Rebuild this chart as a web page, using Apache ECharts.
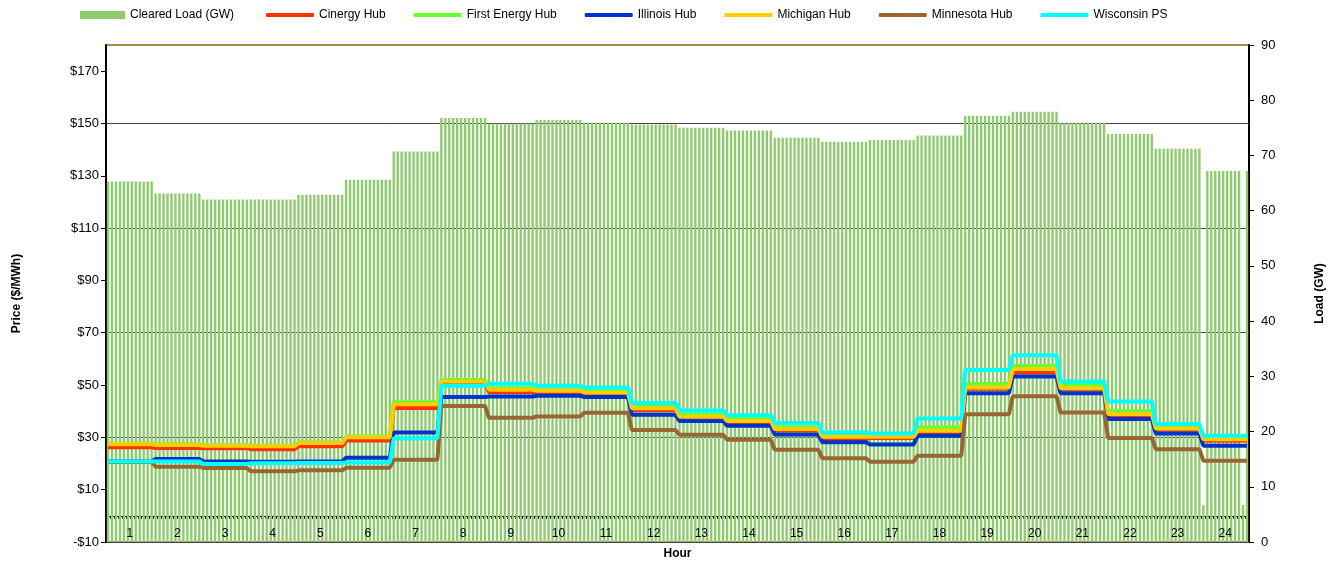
<!DOCTYPE html>
<html lang="en">
<head>
<meta charset="UTF-8">
<title>Real-Time Prices and Cleared Load</title>
<script src="https://cdn.jsdelivr.net/npm/echarts@6/dist/echarts.min.js"></script>
<style>
    html, body { margin: 0; padding: 0; background: #fff; }
    #chart { width: 1339px; height: 565px; }
</style>
</head>
<body>
<div id="chart"></div>
<script>
// hourly values (hour 1 .. 24)
var hours = ['1','2','3','4','5','6','7','8','9','10','11','12','13','14','15','16','17','18','19','20','21','22','23','24'];
var clearedLoad = [65.3, 63.1, 62.0, 62.0, 62.9, 65.6, 70.7, 76.8, 75.8, 76.4, 75.9, 75.6, 75.0, 74.5, 73.2, 72.5, 72.8, 73.6, 77.2, 77.9, 75.9, 73.9, 71.2, 67.2];
// single 5-minute intervals where the load drops out: [interval index, GW]
var loadDips = [[276, 6.7], [286, 6.7]];

var cinergy     = [26.2, 25.9, 25.8, 25.5, 26.6, 28.8, 41.2, 50.8, 47.3, 47.2, 46.5, 40.4, 37.4, 35.8, 32.6, 29.3, 29.8, 32.0, 48.6, 54.8, 48.3, 38.4, 32.9, 28.7];
var firstEnergy = [27.6, 27.4, 27.0, 26.8, 28.0, 30.3, 43.4, 51.9, 48.8, 48.3, 47.8, 41.8, 38.7, 37.1, 33.8, 30.6, 30.6, 33.8, 50.4, 57.3, 50.1, 40.0, 34.1, 29.9];
var illinois    = [20.8, 21.7, 20.8, 20.7, 20.8, 22.2, 31.9, 45.4, 45.6, 45.9, 45.4, 38.6, 36.3, 34.4, 31.1, 28.1, 27.3, 30.6, 46.9, 53.3, 46.9, 37.0, 31.5, 26.8];
var michigan    = [27.4, 27.1, 26.8, 26.6, 27.8, 30.0, 42.7, 51.4, 48.2, 47.8, 47.2, 41.1, 37.9, 36.3, 33.2, 30.2, 30.2, 32.5, 49.1, 56.1, 48.8, 38.9, 33.4, 29.3];
var minnesota   = [20.6, 18.8, 18.3, 17.0, 17.4, 18.4, 21.4, 42.0, 37.5, 38.0, 39.4, 32.8, 31.0, 29.1, 25.3, 22.0, 20.7, 23.0, 38.8, 45.7, 39.5, 29.8, 25.5, 21.1];
var wisconsin   = [20.8, 20.8, 19.8, 20.1, 20.2, 20.4, 29.7, 49.7, 50.5, 49.7, 49.1, 43.1, 40.3, 38.5, 35.5, 31.9, 31.5, 37.2, 55.8, 61.4, 51.4, 43.7, 35.1, 30.6];

var priceTicks = [-10, 10, 30, 50, 70, 90, 110, 130, 150, 170];

// 12 five-minute intervals per hour
var intervals = [];
hours.forEach(function (h) {
    for (var m = 0; m < 60; m += 5) {
        intervals.push((h - 1) + ':' + (m < 10 ? '0' + m : m));
    }
});

function perInterval(hourly) {
    var out = [];
    hourly.forEach(function (v) {
        for (var i = 0; i < 12; i++) out.push(v);
    });
    return out;
}

var loadData = perInterval(clearedLoad);
loadDips.forEach(function (d) { loadData[d[0]] = d[1]; });

var font = "'Liberation Sans', Arial, sans-serif";

function lineSeries(name, color, hourly) {
    return {
        name: name,
        type: 'line',
        xAxisIndex: 0,
        yAxisIndex: 0,
        data: perInterval(hourly),
        showSymbol: false,
        symbol: 'none',
        lineStyle: { color: color, width: 4 },
        itemStyle: { color: color }
    };
}

var chart = echarts.init(document.getElementById('chart'));

var option = {
    animation: false,
    textStyle: { fontFamily: font },
    legend: [{
        left: 80,
        top: 9,
        padding: 0,
        itemWidth: 45,
        itemHeight: 8,
        textStyle: { fontSize: 12, color: '#000' },
        data: [{ name: 'Cleared Load (GW)', icon: 'rect' }]
    }, {
        left: 266,
        top: 9,
        padding: 0,
        itemWidth: 48,
        itemHeight: 4,
        itemGap: 28,
        textStyle: { fontSize: 12, color: '#000' },
        data: ['Cinergy Hub', 'First Energy Hub', 'Illinois Hub', 'Michigan Hub', 'Minnesota Hub', 'Wisconsin PS'].map(function (n) {
            return { name: n, icon: 'roundRect' };
        })
    }],
    grid: {
        left: 106, right: 90, top: 45, bottom: 22,
        show: true,
        borderColor: '#B08A3C',
        borderWidth: 2,
        backgroundColor: '#fff'
    },
    xAxis: [{
        type: 'category',
        data: intervals,
        boundaryGap: true,
        axisLine: { onZero: true, onZeroAxisIndex: 0, lineStyle: { color: '#000', width: 1 } },
        axisTick: { show: true, interval: 0, length: 3, lineStyle: { color: '#000' } },
        axisLabel: { show: false },
        splitLine: { show: false }
    }, {
        type: 'category',
        data: hours,
        position: 'bottom',
        z: 10,
        axisLine: { show: false, onZero: false },
        axisTick: { show: false },
        axisLabel: { inside: true, margin: 2, fontSize: 12, color: '#000', interval: 0 },
        splitLine: { show: false },
        name: 'Hour',
        nameLocation: 'middle',
        nameGap: 6,
        nameTextStyle: { fontSize: 12, fontWeight: 'bold', color: '#000' }
    }],
    yAxis: [{
        type: 'value',
        min: -10,
        max: 180,
        interval: 10,
        z: 1,
        name: 'Price ($/MWh)',
        nameLocation: 'middle',
        nameRotate: 90,
        nameGap: 83,
        nameTextStyle: { fontSize: 12, fontWeight: 'bold', color: '#000' },
        axisLine: { show: true, lineStyle: { color: '#000', width: 2 } },
        axisTick: { show: true, length: 5, customValues: priceTicks, lineStyle: { color: '#000' } },
        axisLabel: {
            fontSize: 13, color: '#000', margin: 7,
            customValues: priceTicks,
            formatter: function (v) { return v < 0 ? '-$' + Math.abs(v) : '$' + v; }
        },
        // gridlines only at -10, 10, 30 ... 170
        splitLine: { show: true, lineStyle: { color: ['#444', 'rgba(0,0,0,0)'], width: 1 } }
    }, {
        type: 'value',
        min: 0,
        max: 90,
        interval: 10,
        name: 'Load (GW)',
        nameLocation: 'middle',
        nameRotate: 90,
        nameGap: 65,
        nameTextStyle: { fontSize: 12, fontWeight: 'bold', color: '#000' },
        axisLine: { show: true, lineStyle: { color: '#000', width: 2 } },
        axisTick: { show: true, length: 5, lineStyle: { color: '#000' } },
        axisLabel: { fontSize: 13, color: '#000', margin: 12 },
        splitLine: { show: false }
    }],
    series: [{
        name: 'Cleared Load (GW)',
        type: 'bar',
        xAxisIndex: 0,
        yAxisIndex: 1,
        data: loadData,
        barWidth: '60%',
        itemStyle: { color: '#8DCB6E' }
    },
    lineSeries('Cinergy Hub', '#FF3300', cinergy),
    lineSeries('First Energy Hub', '#66FF33', firstEnergy),
    lineSeries('Illinois Hub', '#0033CC', illinois),
    lineSeries('Michigan Hub', '#FFCC00', michigan),
    lineSeries('Minnesota Hub', '#996633', minnesota),
    lineSeries('Wisconsin PS', '#00FFFF', wisconsin)
    ]
};

chart.setOption(option);
</script>
</body>
</html>
